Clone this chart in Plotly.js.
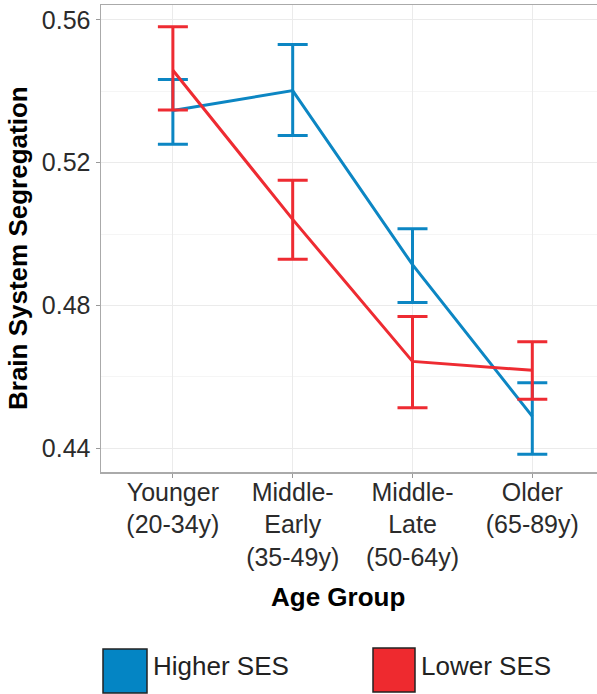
<!DOCTYPE html>
<html>
<head>
<meta charset="utf-8">
<script src="https://cdn.plot.ly/plotly-3.0.1.min.js"></script>
<style>html,body{margin:0;padding:0;background:#fff;}#chart{width:597px;height:694px;}</style>
</head>
<body>
<div id="chart"></div>
<script>
// Data
const categories = ["Younger<br>(20-34y)", "Middle-<br>Early<br>(35-49y)", "Middle-<br>Late<br>(50-64y)", "Older<br>(65-89y)"];
const seriesNames = ["Higher SES", "Lower SES"];
const higherMean  = [0.5346, 0.5402, 0.4914, 0.4489];
const higherUpper = [0.5433, 0.5531, 0.5015, 0.4583];
const higherLower = [0.5252, 0.5276, 0.4808, 0.4383];
const lowerMean   = [0.5459, 0.5041, 0.4643, 0.4618];
const lowerUpper  = [0.5581, 0.5151, 0.4769, 0.4698];
const lowerLower  = [0.5348, 0.4929, 0.4513, 0.4537];
const yTickVals = [0.44, 0.48, 0.52, 0.56];
const yTickText = ["0.44", "0.48", "0.52", "0.56"];

const BLUE = "#0c86c3";
const RED = "#ee2b32";
const FONT = "Liberation Sans, Arial, sans-serif";
const TXT = "#2b2b2b";

const xIdx = categories.map((_, i) => i);
function trace(name, mean, up, lo, color) {
  return {
    type: "scatter", mode: "lines", name: name,
    x: xIdx, y: mean,
    line: {color: color, width: 3},
    error_y: {
      type: "data", symmetric: false,
      array: up.map((v, i) => v - mean[i]),
      arrayminus: mean.map((v, i) => v - lo[i]),
      color: color, thickness: 3, width: 15
    },
    showlegend: false, hoverinfo: "skip"
  };
}

const data = [
  trace(seriesNames[0], higherMean, higherUpper, higherLower, BLUE),
  trace(seriesNames[1], lowerMean, lowerUpper, lowerLower, RED)
];

const L = 101, T = 5, W = 496, H = 467;
const px = p => (p - L) / W;
const py = q => (T + H - q) / H;

const layout = {
  width: 597, height: 694,
  margin: {l: L, r: 0, t: T, b: 694 - T - H, pad: 0},
  paper_bgcolor: "#ffffff", plot_bgcolor: "#ffffff",
  font: {family: FONT, color: TXT},
  showlegend: false,
  xaxis: {
    range: [-0.6, 3.54],
    tickmode: "array", tickvals: xIdx, ticktext: categories,
    tickfont: {size: 25, color: TXT, family: FONT},
    ticks: "outside", ticklen: 4, tickcolor: "#999999", tickwidth: 1,
    ticklabelstandoff: -7,
    showgrid: true, gridcolor: "#ebebeb", gridwidth: 1,
    showline: true, linecolor: "#aaaaaa", linewidth: 1.5, mirror: true,
    zeroline: false, fixedrange: true
  },
  yaxis: {
    range: [0.4333, 0.5642],
    tickmode: "array", tickvals: yTickVals, ticktext: yTickText,
    tickfont: {size: 25, color: TXT, family: FONT},
    ticks: "outside", ticklen: 4, tickcolor: "#999999", tickwidth: 1,
    showgrid: true, gridcolor: "#ebebeb", gridwidth: 1,
    minor: {dtick: 0.02, tick0: 0.44, showgrid: true, gridcolor: "#f5f5f5", gridwidth: 1, ticks: ""},
    showline: true, linecolor: "#aaaaaa", linewidth: 1.5, mirror: true,
    zeroline: false, fixedrange: true
  },
  annotations: [
    {xref: "paper", yref: "paper", x: px(338), y: py(597), xanchor: "center", yanchor: "middle",
     text: "<b>Age Group</b>", showarrow: false, font: {size: 26, color: "#000000", family: FONT}},
    {xref: "paper", yref: "paper", x: px(18), y: py(248), xanchor: "center", yanchor: "middle", textangle: -90,
     text: "<b>Brain System Segregation</b>", showarrow: false, font: {size: 26, color: "#000000", family: FONT}},
    {xref: "paper", yref: "paper", x: px(151), y: py(666), xanchor: "left", yanchor: "middle",
     text: seriesNames[0], showarrow: false, font: {size: 26, color: "#222222", family: FONT}},
    {xref: "paper", yref: "paper", x: px(419), y: py(666), xanchor: "left", yanchor: "middle",
     text: seriesNames[1], showarrow: false, font: {size: 26, color: "#222222", family: FONT}}
  ],
  shapes: [
    {type: "rect", xref: "paper", yref: "paper", x0: px(103), x1: px(147), y0: py(693), y1: py(649),
     fillcolor: "#0485c4", line: {color: "#222222", width: 1.5}},
    {type: "rect", xref: "paper", yref: "paper", x0: px(373), x1: px(415), y0: py(692), y1: py(648),
     fillcolor: "#ee2a2f", line: {color: "#222222", width: 1.5}}
  ]
};

Plotly.newPlot("chart", data, layout, {displayModeBar: false, staticPlot: true});
</script>
</body>
</html>
